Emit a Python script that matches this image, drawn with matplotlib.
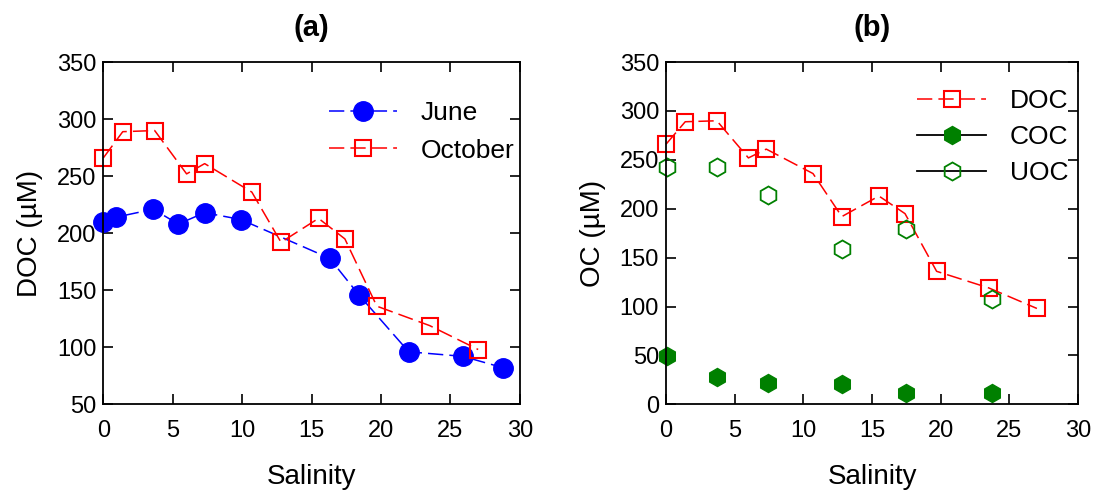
import matplotlib.pyplot as plt
from matplotlib.lines import Line2D

plt.rcParams['font.family'] = ['Liberation Sans', 'DejaVu Sans']

# panel (a): DOC vs salinity
june_sal = [0.0, 0.9, 3.6, 5.4, 7.3, 9.9, 16.3, 18.4, 22.0, 25.9, 28.8]
june_doc = [210, 214, 221, 208, 218, 212, 178, 146, 96, 92, 82]
oct_sal = [0.0, 1.4, 3.7, 6.0, 7.3, 10.7, 12.8, 15.5, 17.4, 19.7, 23.5, 27.0]
oct_doc = [266, 289, 290, 252, 261, 236, 192, 213, 195, 136, 119, 98]

# panel (b): OC fractions (October)
oc_sal = [0.1, 3.7, 7.4, 12.8, 17.5, 23.7]
coc = [49, 28, 22, 21, 12, 12]
uoc = [243, 243, 214, 159, 179, 108]

dash = (0, (10, 4))

fig = plt.figure(figsize=(10.99, 4.93), dpi=100)
ax1 = fig.add_axes([0.094, 0.180, 0.379, 0.694])
ax2 = fig.add_axes([0.606, 0.180, 0.375, 0.694])

ax1.plot(june_sal, june_doc, color='blue', linestyle=dash, lw=1.1, marker='o',
         markersize=14, markerfacecolor='blue', markeredgecolor='blue', label='June',
         clip_on=False)
ax1.plot(oct_sal, oct_doc, color='red', linestyle=dash, lw=1.1, marker='s',
         markersize=12, markerfacecolor='none', markeredgecolor='red', markeredgewidth=1.5,
         label='October', clip_on=False)
ax1.set_xlim(0, 30)
ax1.set_ylim(50, 350)
ax1.set_yticks(range(50, 351, 50))
ax1.set_ylabel('DOC (\u00b5M)', fontsize=20, labelpad=10)
ax1.set_title('(a)', fontsize=21, fontweight='bold', pad=19)
ax1.legend(loc='upper right', frameon=False, fontsize=19, handlelength=2.6,
           bbox_to_anchor=(0.988, 0.885), borderaxespad=0, borderpad=0,
           handletextpad=0.9, labelspacing=0.5)

ax2.plot(oct_sal, oct_doc, color='red', linestyle=dash, lw=1.1, marker='s',
         markersize=12, markerfacecolor='none', markeredgecolor='red', markeredgewidth=1.5,
         clip_on=False)
ax2.plot(oc_sal, coc, linestyle='none', marker='h', markersize=13,
         markerfacecolor='green', markeredgecolor='green', clip_on=False)
ax2.plot(oc_sal, uoc, linestyle='none', marker='h', markersize=13,
         markerfacecolor='none', markeredgecolor='green', markeredgewidth=1.3, clip_on=False)
ax2.set_xlim(0, 30)
ax2.set_ylim(0, 350)
ax2.set_yticks(range(0, 351, 50))
ax2.set_ylabel('OC (\u00b5M)', fontsize=20, labelpad=10)
ax2.set_title('(b)', fontsize=21, fontweight='bold', pad=19)
handles = [
    Line2D([], [], color='red', linestyle=dash, lw=1.1, marker='s', markersize=12,
           markerfacecolor='none', markeredgecolor='red', markeredgewidth=1.5),
    Line2D([], [], color='black', lw=1.3, marker='h', markersize=13,
           markerfacecolor='green', markeredgecolor='green'),
    Line2D([], [], color='black', lw=1.3, marker='h', markersize=13,
           markerfacecolor='none', markeredgecolor='green', markeredgewidth=1.3),
]
ax2.legend(handles, ['DOC', 'COC', 'UOC'], loc='upper right', frameon=False, fontsize=19,
           handlelength=2.6, bbox_to_anchor=(0.976, 0.92), borderaxespad=0, borderpad=0,
           handletextpad=0.9, labelspacing=0.45)

for ax in (ax1, ax2):
    ax.set_xticks(range(0, 31, 5))
    ax.set_xlabel('Salinity', fontsize=20, labelpad=16)
    ax.tick_params(direction='in', top=True, right=True, labelsize=17, length=7, width=1.2)
    ax.tick_params(axis='x', pad=11)
    ax.tick_params(axis='y', pad=5)
    for s in ax.spines.values():
        s.set_linewidth(1.3)

fig.savefig('out.png', dpi=100)
